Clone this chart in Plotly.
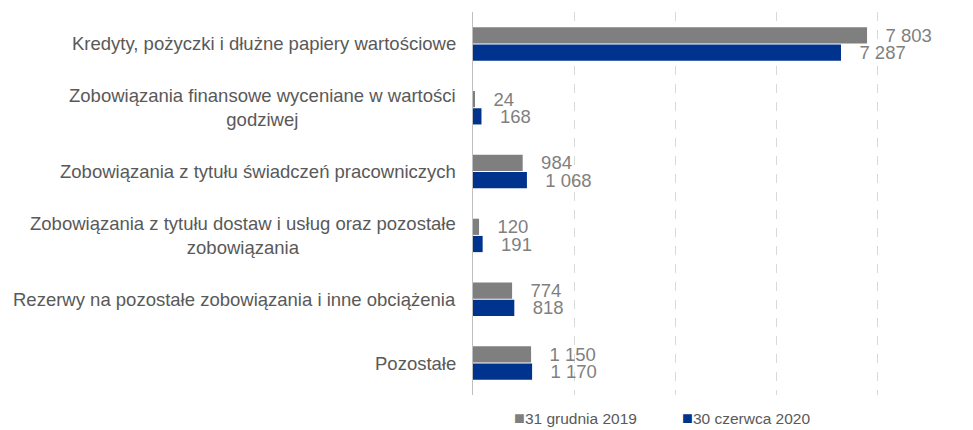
import plotly.graph_objects as go

categories = [
    "Kredyty, pożyczki i dłużne papiery wartościowe",
    "Zobowiązania finansowe wyceniane w wartości<br>godziwej",
    "Zobowiązania z tytułu świadczeń pracowniczych",
    "Zobowiązania z tytułu dostaw i usług oraz pozostałe<br>zobowiązania",
    "Rezerwy na pozostałe zobowiązania i inne obciążenia",
    "Pozostałe",
]
series_names = ["31 grudnia 2019", "30 czerwca 2020"]
values_2019 = [7803, 24, 984, 120, 774, 1150]
values_2020 = [7287, 168, 1068, 191, 818, 1170]
colors = ["#7F7F7F", "#00338D"]
grid_ticks = [0, 2000, 4000, 6000, 8000]

def fmt(v):
    return "\u00a0\u00a0\u00a0" + f"{v:,}".replace(",", " ")

FONT = "Liberation Sans, Arial"

fig = go.Figure()
for name, vals, col in zip(series_names, [values_2019, values_2020], colors):
    fig.add_trace(go.Bar(
        y=categories, x=vals, name=name, orientation="h",
        marker=dict(color=col, line=dict(width=0)),
        text=[fmt(v) for v in vals], textposition="outside",
        constraintext="none",
        textfont=dict(size=18.5, color="#7F7F7F", family=FONT),
        cliponaxis=False, showlegend=False,
    ))

for c in categories:
    fig.add_annotation(
        x=0, xref="paper", y=c, yref="y", xanchor="right", xshift=-15,
        text=c, showarrow=False, align="center",
        font=dict(size=18.5, color="#595959", family=FONT),
    )

# legend drawn as text entries (square marker + label)
legend_x = [0.077, 0.41]
for name, col, lx in zip(series_names, colors, legend_x):
    fig.add_annotation(
        x=lx, xref="paper", y=-0.06, yref="paper", xanchor="left", yanchor="middle",
        text=f"<span style='color:{col};font-size:18px'>■</span>{name}", showarrow=False,
        font=dict(size=15.5, color="#595959", family=FONT),
    )

# page body has an 8px margin: figure coordinates = screen - 8
fig.update_layout(
    width=973, height=430,
    margin=dict(l=465, r=3, t=4, b=43),
    barmode="group", bargap=0.46, bargroupgap=0.06,
    plot_bgcolor="white", paper_bgcolor="white",
    font=dict(family=FONT, color="#595959"),
    showlegend=False,
    xaxis=dict(
        range=[0, 10000], tickvals=grid_ticks, showticklabels=False,
        showgrid=True, gridcolor="#D9D9D9", griddash="dash", gridwidth=1,
        zeroline=False, showline=False,
    ),
    yaxis=dict(
        autorange="reversed", showticklabels=False, showgrid=False,
        showline=True, linecolor="#BFBFBF", linewidth=1, zeroline=False,
    ),
)

fig.write_html("out.html")
